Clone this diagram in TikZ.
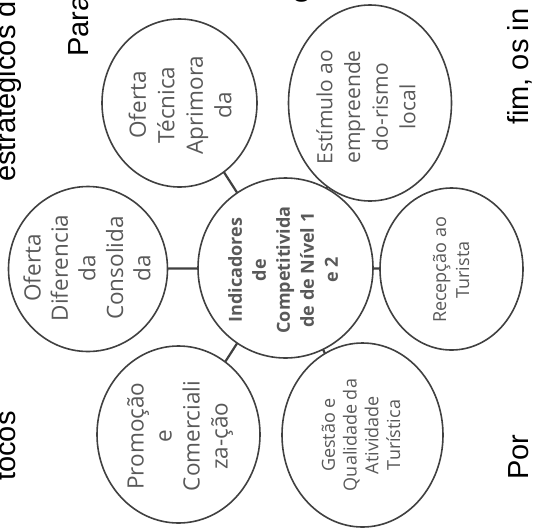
\documentclass[tikz,border=0pt]{standalone}
\usepackage{fontspec}
\setmainfont{Open Sans}
\newfontfamily\arialf{Liberation Sans}
\usetikzlibrary{shapes.geometric}
\definecolor{edgec}{HTML}{404040}
\definecolor{txtc}{HTML}{595959}
\begin{document}
\begin{tikzpicture}[x=1pt,y=-1pt,
  bub/.style={ellipse, draw=edgec, line width=1.6pt, fill=white, inner sep=0pt, outer sep=0pt},
  conn/.style={draw=edgec, line width=2.2pt},
  lbl/.style={rotate=90, align=center, text=txtc, inner sep=0pt},
  bgt/.style={rotate=90, inner sep=0pt, anchor=base west, font=\arialf\fontsize{29}{34}\selectfont}]
\useasboundingbox (0,0) rectangle (549,531);
\clip (0,0) rectangle (549,531);
\fill[white] (0,0) rectangle (549,531);
% background text fragments
\node[bgt] (t1) at (15,182) {estratégicos d};
\node[bgt] (t2) at (88,57) {Para};
\node[bgt] (t3) at (309,4) {e};
\node[bgt] (t4) at (528,125) {fim, os in};
\node[bgt] (t5) at (15,481) {tocos};
\node[bgt] (t6) at (528,480) {Por};
% bubbles
\node[bub, minimum width=155pt, minimum height=168pt] (tl) at (179.5,103) {};
\node[bub, minimum width=163pt, minimum height=196pt] (tr) at (370,103) {};
\node[bub, minimum width=159pt, minimum height=165pt] (l) at (88,269) {};
\node[bub, minimum width=175pt, minimum height=180pt] (c) at (285.5,268) {};
\node[bub, minimum width=143pt, minimum height=162pt] (r) at (451.5,269) {};
\node[bub, minimum width=163pt, minimum height=177pt] (bl) at (178.5,434.5) {};
\node[bub, minimum width=161pt, minimum height=184pt] (br) at (362.5,435) {};
% connectors
\draw[conn] (c) -- (l);
\draw[conn] (c) -- (r);
\draw[conn] (c) -- (tl);
\draw[conn] (c) -- (tr);
\draw[conn] (c) -- (bl);
\draw[conn] (c) -- (br);
% labels
\node[lbl, font=\fontsize{22.5}{28.5}\selectfont] (ltl) at (180,105) {Oferta\\Técnica\\Aprimora\\da};
\node[lbl, font=\fontsize{21}{27.7}\selectfont] (ltr) at (366,107) {Estímulo ao\\empreende\\do-rismo\\local};
\node[lbl, font=\fontsize{22.5}{27.5}\selectfont] (ll) at (87,268) {Oferta\\Diferencia\\da\\Consolida\\da};
\node[lbl, font=\bfseries\fontsize{18}{24}\selectfont] (lc) at (283,270) {Indicadores\\de\\Competitivida\\de de Nível 1\\e 2};
\node[lbl, font=\fontsize{18}{23}\selectfont] (lr) at (451,270) {Recepção ao\\Turista};
\node[lbl, font=\fontsize{22.5}{28}\selectfont] (lbl) at (180,436) {Promoção\\e\\Comerciali\\za-ção};
\node[lbl, font=\fontsize{18}{21.7}\selectfont] (lbr) at (361,435) {Gestão e\\Qualidade da\\Atividade\\Turística};
\end{tikzpicture}
\end{document}
